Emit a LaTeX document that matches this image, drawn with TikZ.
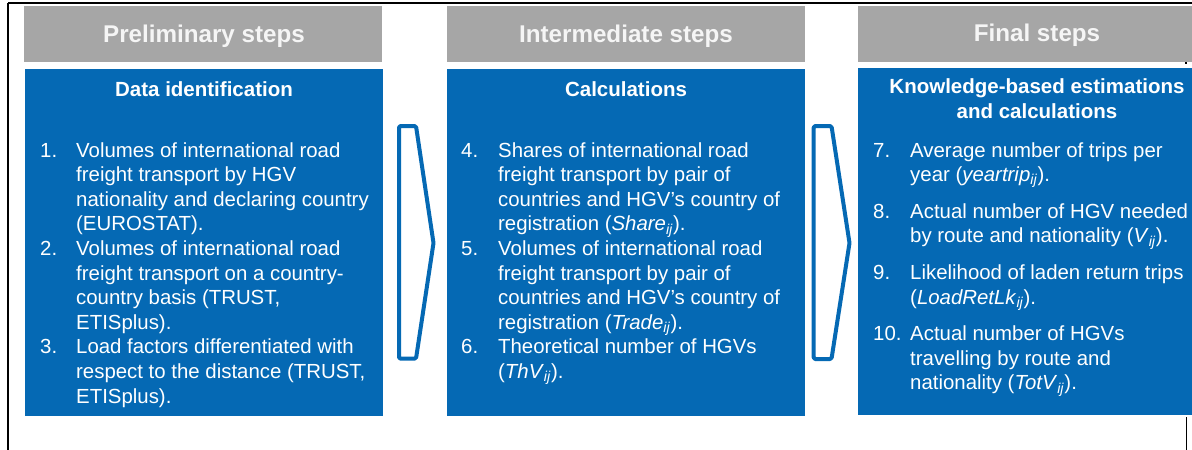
\documentclass[tikz,border=0pt]{standalone}
\usepackage{fontspec}
\setmainfont{Liberation Sans}
\definecolor{boxblue}{RGB}{5,105,180}
\definecolor{hdrgray}{RGB}{166,166,166}
\newcommand\ijsub{\textsubscript{\textit{ij}}}
\begin{document}
\begin{tikzpicture}[x=1pt,y=-1pt,
  hdr/.style={fill=hdrgray, draw=none, minimum width=358pt, minimum height=56pt, anchor=north west, inner sep=0pt, outer sep=0pt},
  bluebox/.style={fill=boxblue, draw=none, minimum width=358pt, minimum height=347pt, anchor=north west, inner sep=0pt, outer sep=0pt},
  hdrtext/.style={font=\fontsize{24.2}{28}\selectfont\bfseries, text=white!96!black, anchor=base, inner sep=0pt},
  subtext/.style={font=\fontsize{20.5}{25}\selectfont\bfseries, text=white, anchor=base, inner sep=0pt},
  body/.style={font=\fontsize{20.4}{24.6}\selectfont, text=white, anchor=base west, inner sep=0pt},
  chev/.style={draw=boxblue, line width=4pt, fill=white, rounded corners=1.5pt, line join=round},
  frame/.style={draw=black, line width=1.8pt}
]
\useasboundingbox (0,0) rectangle (1192,450);
\clip (0,0) rectangle (1192,450);
\fill[white] (0,0) rectangle (1192,450);

% frame lines
\draw[frame] (8,3.3) -- (1192,3.3);
\draw[frame] (8.3,3) -- (8.3,450);
\draw[black, line width=1pt] (1186,417) -- (1186,450);
\fill[black] (1185.3,62) rectangle (1186.8,64);

% headers
\node[hdr] (h1) at (24,6) {};
\node[hdr] (h2) at (447,6) {};
\node[hdr] (h3) at (858,5.5) {};
\node[hdrtext] (h1t) at (204,42) {Preliminary steps};
\node[hdrtext] (h2t) at (626,42) {Intermediate steps};
\node[hdrtext] (h3t) at (1037,41.5) {Final steps};

% blue boxes
\node[bluebox] (b1) at (25,69) {};
\node[bluebox] (b2) at (447,69) {};
\node[bluebox, minimum height=347pt] (b3) at (858,68) {};

% chevrons
\draw[chev] (399,126) -- (416,126) -- (433.5,243) -- (416,358.7) -- (399,358.7) -- cycle;
\draw[chev] (813.7,126) -- (831.5,126) -- (849.5,243) -- (831.5,359) -- (813.7,359) -- cycle;

% sub headings
\node[subtext] (s1) at (204,96) {Data identification};
\node[subtext] (s2) at (626,96) {Calculations};
\node[subtext] (s3) at (1037,93) {\begin{tabular}[t]{@{}c@{}}Knowledge-based estimations\\ and calculations\end{tabular}};

% body texts
\node[body] (t1) at (40,157) {\begin{tabular}[t]{@{}p{36pt}@{}l@{}}
1. & Volumes of international road \\
 & freight transport by HGV \\
 & nationality and declaring country \\
 & (EUROSTAT). \\
2. & Volumes of international road \\
 & freight transport on a country- \\
 & country basis (TRUST, \\
 & ETISplus). \\
3. & Load factors differentiated with \\
 & respect to the distance (TRUST, \\
 & ETISplus).
\end{tabular}};

\node[body] (t2) at (461,157) {\begin{tabular}[t]{@{}p{37pt}@{}l@{}}
4. & Shares of international road \\
 & freight transport by pair of \\
 & countries and HGV’s country of \\
 & registration (\textit{Share}\ijsub). \\
5. & Volumes of international road \\
 & freight transport by pair of \\
 & countries and HGV’s country of \\
 & registration (\textit{Trade}\ijsub). \\
6. & Theoretical number of HGVs \\
 & (\textit{ThV}\ijsub).
\end{tabular}};

\node[body] (t3) at (873,157) {\begin{tabular}[t]{@{}p{37pt}@{}l@{}}
7. & Average number of trips per \\
 & year (\textit{yeartrip}\ijsub). \\[12pt]
8. & Actual number of HGV needed \\
 & by route and nationality (\textit{V}\ijsub). \\[12pt]
9. & Likelihood of laden return trips \\
 & (\textit{LoadRetLk}\ijsub). \\[12pt]
10. & Actual number of HGVs \\
 & travelling by route and \\
 & nationality (\textit{TotV}\ijsub).
\end{tabular}};
\end{tikzpicture}
\end{document}
